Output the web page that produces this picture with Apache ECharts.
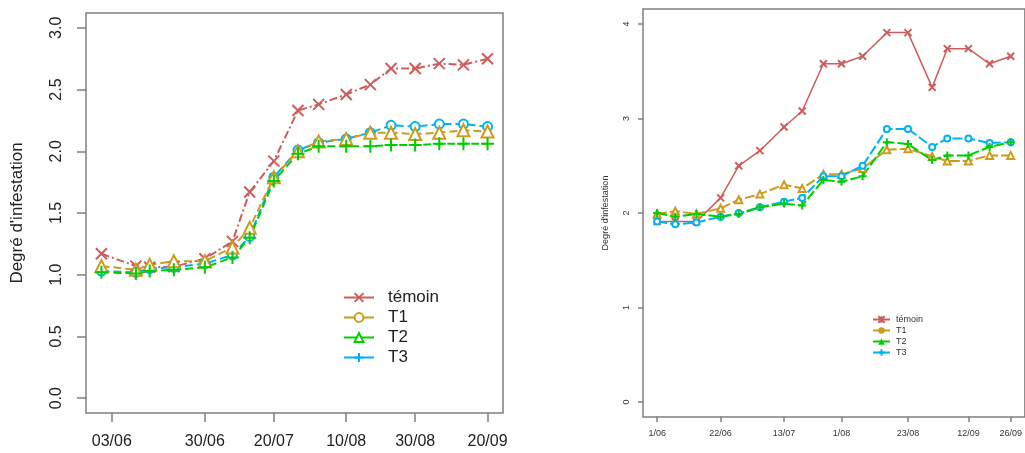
<!DOCTYPE html>
<html>
<head>
<meta charset="utf-8">
<script src="https://cdn.jsdelivr.net/npm/echarts@6/dist/echarts.min.js"></script>
<style>
    body { margin: 0; background: #fff; }
    #main { width: 1025px; height: 453px; }
</style>
</head>
<body>
<div id="main"></div>
<script>
    // graphique de gauche
    var leftDates = ['31/05', '10/06', '14/06', '21/06', '30/06', '08/07', '13/07', '20/07', '27/07',
        '02/08', '10/08', '17/08', '23/08', '30/08', '06/09', '13/09', '20/09'];
    var leftTemoin = [1.17, 1.07, 1.06, 1.065, 1.13, 1.27, 1.67, 1.92, 2.33, 2.38, 2.46, 2.54, 2.67, 2.67, 2.71, 2.70, 2.75];
    var leftT1 = [1.07, 1.04, 1.08, 1.11, 1.11, 1.22, 1.38, 1.79, 2.00, 2.08, 2.10, 2.15, 2.15, 2.14, 2.15, 2.17, 2.16];
    var leftT2 = [1.02, 1.01, 1.03, 1.04, 1.06, 1.14, 1.30, 1.76, 1.98, 2.04, 2.04, 2.04, 2.05, 2.05, 2.06, 2.06, 2.06];
    var leftT3 = [1.03, 1.02, 1.05, 1.06, 1.09, 1.16, 1.31, 1.79, 2.01, 2.07, 2.10, 2.15, 2.21, 2.20, 2.22, 2.22, 2.20];
    var leftTickLabels = ['03/06', '30/06', '20/07', '10/08', '30/08', '20/09'];
    var leftYTicks = [0, 0.5, 1, 1.5, 2, 2.5, 3];

    // graphique de droite
    var rightDates = ['1/06', '7/06', '14/06', '22/06', '28/06', '5/07', '13/07', '19/07', '26/07',
        '1/08', '8/08', '16/08', '23/08', '31/08', '5/09', '12/09', '19/09', '26/09'];
    var rightTemoin = [1.91, 1.91, 1.91, 2.16, 2.50, 2.66, 2.91, 3.08, 3.58, 3.58, 3.66, 3.91, 3.91, 3.33, 3.74, 3.74, 3.58, 3.66];
    var rightT1 = [1.99, 2.02, 1.99, 2.05, 2.14, 2.20, 2.30, 2.26, 2.41, 2.41, 2.47, 2.67, 2.68, 2.60, 2.55, 2.55, 2.61, 2.61];
    var rightT2 = [2.00, 1.96, 1.99, 1.96, 1.99, 2.06, 2.10, 2.08, 2.35, 2.33, 2.39, 2.75, 2.73, 2.56, 2.61, 2.61, 2.70, 2.75];
    var rightT3 = [1.91, 1.88, 1.90, 1.96, 2.00, 2.06, 2.12, 2.16, 2.39, 2.39, 2.50, 2.89, 2.89, 2.70, 2.79, 2.79, 2.74, 2.75];
    var rightTickLabels = ['1/06', '22/06', '13/07', '1/08', '23/08', '12/09', '26/09'];
    var rightYTicks = [0, 1, 2, 3, 4];

    var names = ['témoin', 'T1', 'T2', 'T3'];
    var RED = '#CD5C5C', ORANGE = '#CD9B1D', GREEN = '#00CD00', BLUE = '#00B2EE';
    var CROSS = 'path://M0,0L10,10M10,0L0,10';
    var PLUS = 'path://M5,0L5,10M0,5L10,5';
    var STAR = 'path://M0,0L10,10M10,0L0,10M5,0L5,10';

    // jour compté depuis le 1er juin
    var monthStart = { 5: -31, 6: 0, 7: 30, 8: 61, 9: 92 };
    function toDay(s) {
        var p = s.split('/');
        return monthStart[parseInt(p[1], 10)] + parseInt(p[0], 10) - 1;
    }
    function pairs(dates, vals) {
        var out = [];
        for (var i = 0; i < vals.length; i++) {
            out.push([toDay(dates[i]), vals[i]]);
        }
        return out;
    }
    function tickFormatter(labels) {
        return function (v) {
            for (var i = 0; i < labels.length; i++) {
                if (toDay(labels[i]) === v) return labels[i];
            }
            return '';
        };
    }

    function curve(name, idx, dates, vals, color, symbol, size, dash, width) {
        var stroke = symbol.indexOf('path://') === 0;
        return {
            name: name,
            type: 'line',
            xAxisIndex: idx,
            yAxisIndex: idx,
            data: pairs(dates, vals),
            symbol: symbol,
            symbolSize: size,
            showSymbol: true,
            animation: false,
            lineStyle: { color: color, width: width, type: dash },
            itemStyle: stroke ? { color: color, borderColor: color, borderWidth: 2 } : { color: color },
            z: 3
        };
    }
    // séries vides, seulement pour les légendes
    function legendOnly(name, idx, color, symbol) {
        var stroke = symbol.indexOf('path://') === 0;
        return {
            name: name,
            type: 'line',
            xAxisIndex: idx,
            yAxisIndex: idx,
            data: [],
            symbol: symbol,
            lineStyle: { color: color, width: 2, type: 'solid' },
            itemStyle: stroke ? { color: color, borderColor: color, borderWidth: 2 } : { color: color }
        };
    }

    var axisGray = '#7f7f7f';
    var myChart = echarts.init(document.getElementById('main'));
    myChart.setOption({
        backgroundColor: '#fff',
        animation: false,
        textStyle: { fontFamily: 'Liberation Sans, Arial, sans-serif' },
        grid: [
            { left: 86, top: 13, width: 417, height: 400, show: true, borderColor: axisGray, borderWidth: 1.5, containLabel: false },
            { left: 643, top: 9, width: 386, height: 408, show: true, borderColor: axisGray, borderWidth: 1.5, containLabel: false }
        ],
        xAxis: [
            {
                type: 'value', gridIndex: 0, min: -5.48, max: 115.48,
                axisLine: { show: false, onZero: false },
                splitLine: { show: false },
                axisTick: { show: true, length: 9, customValues: leftTickLabels.map(toDay), lineStyle: { color: axisGray, width: 1.5 } },
                axisLabel: { customValues: leftTickLabels.map(toDay), formatter: tickFormatter(leftTickLabels), fontSize: 16, color: '#222', margin: 21 }
            },
            {
                type: 'value', gridIndex: 1, min: -4.68, max: 121.68,
                axisLine: { show: false, onZero: false },
                splitLine: { show: false },
                axisTick: { show: true, length: 5, customValues: rightTickLabels.map(toDay), lineStyle: { color: axisGray, width: 1.5 } },
                axisLabel: { customValues: rightTickLabels.map(toDay), formatter: tickFormatter(rightTickLabels), fontSize: 9, color: '#333', margin: 12 }
            }
        ],
        yAxis: [
            {
                type: 'value', gridIndex: 0, min: -0.12, max: 3.12,
                name: "Degré d'infestation", nameLocation: 'middle', nameRotate: 90, nameGap: 60,
                nameTextStyle: { fontSize: 17, color: '#222' },
                axisLine: { show: false, onZero: false },
                splitLine: { show: false },
                axisTick: { show: true, length: 9, customValues: leftYTicks, lineStyle: { color: axisGray, width: 1.5 } },
                axisLabel: { customValues: leftYTicks, rotate: 90, fontSize: 16, color: '#222', margin: 21,
                    formatter: function (v) { return v.toFixed(1); } }
            },
            {
                type: 'value', gridIndex: 1, min: -0.16, max: 4.16,
                name: "Degré d'infestation", nameLocation: 'middle', nameRotate: 90, nameGap: 33,
                nameTextStyle: { fontSize: 9, color: '#333' },
                axisLine: { show: false, onZero: false },
                splitLine: { show: false },
                axisTick: { show: true, length: 5, customValues: rightYTicks, lineStyle: { color: axisGray, width: 1.5 } },
                axisLabel: { customValues: rightYTicks, rotate: 90, fontSize: 9, color: '#333', margin: 12 }
            }
        ],
        legend: [
            {
                data: names, orient: 'vertical', left: 343, top: 289, padding: 0,
                itemWidth: 30, itemHeight: 11, itemGap: 3,
                textStyle: { fontSize: 17, color: '#222', padding: [0, 0, 0, 9] },
                selectedMode: false
            },
            {
                data: names.map(function (n) { return 'R:' + n; }),
                formatter: function (n) { return n.slice(2); },
                orient: 'vertical', left: 872, top: 315, padding: 0,
                itemWidth: 17, itemHeight: 8, itemGap: 2,
                textStyle: { fontSize: 9, color: '#333', padding: [0, 0, 0, 1] },
                selectedMode: false
            }
        ],
        series: [
            legendOnly('témoin', 0, RED, CROSS),
            legendOnly('T1', 0, ORANGE, 'emptyCircle'),
            legendOnly('T2', 0, GREEN, 'emptyTriangle'),
            legendOnly('T3', 0, BLUE, PLUS),
            legendOnly('R:témoin', 1, RED, STAR),
            legendOnly('R:T1', 1, ORANGE, 'circle'),
            legendOnly('R:T2', 1, GREEN, 'triangle'),
            legendOnly('R:T3', 1, BLUE, PLUS),

            curve('g-témoin', 0, leftDates, leftTemoin, RED, CROSS, 11, [8, 3, 2, 3], 2),
            curve('g-T3', 0, leftDates, leftT3, BLUE, 'emptyCircle', 9, [8, 4], 2),
            curve('g-T1', 0, leftDates, leftT1, ORANGE, 'emptyTriangle', 12, [8, 4], 2),
            curve('g-T2', 0, leftDates, leftT2, GREEN, PLUS, 13, [8, 4], 2),

            curve('d-témoin', 1, rightDates, rightTemoin, RED, CROSS, 7, 'solid', 1.5),
            curve('d-T1', 1, rightDates, rightT1, ORANGE, 'emptyTriangle', 7, [10, 3], 2),
            curve('d-T3', 1, rightDates, rightT3, BLUE, 'emptyCircle', 6, [10, 3], 2),
            curve('d-T2', 1, rightDates, rightT2, GREEN, PLUS, 8, [10, 3], 2)
        ]
    });
</script>
</body>
</html>
